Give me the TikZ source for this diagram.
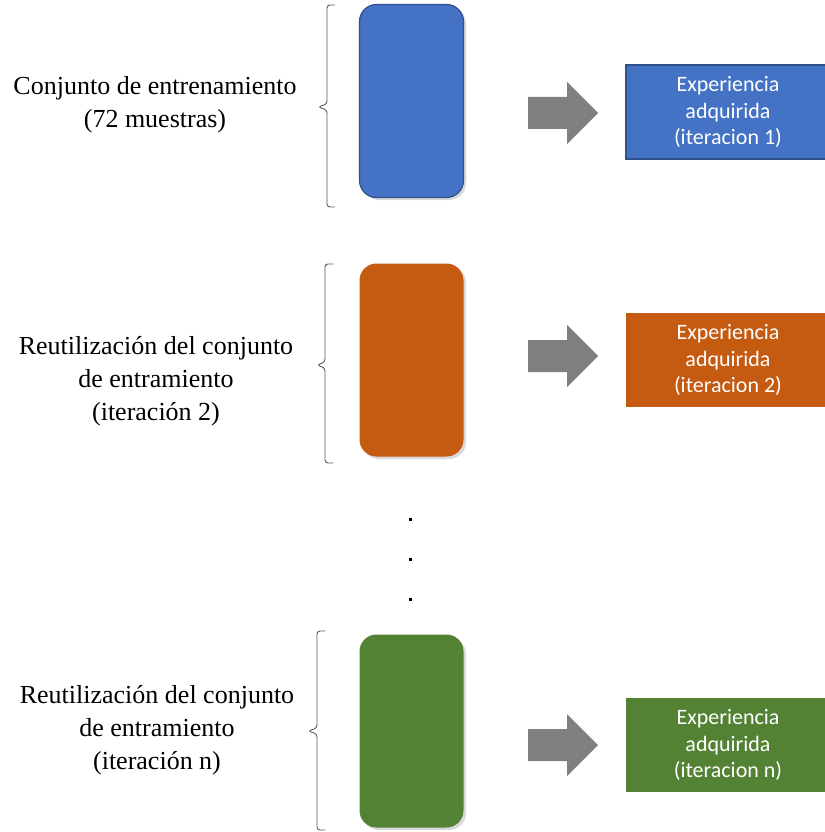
\documentclass[tikz,border=0pt]{standalone}
\usepackage{fontspec}
\setmainfont{Liberation Serif}
\newfontfamily\calibrifont{Carlito}
\usetikzlibrary{shadows}
\definecolor{setblue}{HTML}{4472C4}
\definecolor{setblueline}{HTML}{2F528F}
\definecolor{setorange}{HTML}{C55A11}
\definecolor{setgreen}{HTML}{548235}
\definecolor{arrowgray}{HTML}{7F7F7F}
\definecolor{bracegray}{HTML}{595959}
\tikzset{
  setbox/.style={rounded corners=17pt, minimum width=104pt, minimum height=193pt,
    inner sep=0pt, drop shadow={opacity=0.3, shadow xshift=2.5pt, shadow yshift=-2.5pt}},
  expbox/.style={minimum width=204pt, minimum height=94pt, inner sep=0pt, align=center,
    text=white, font=\calibrifont\fontsize{22}{26.5}\selectfont},
  lefttext/.style={align=center, font=\fontsize{26}{33}\selectfont},
  bracepath/.style={draw=bracegray, line width=0.9pt, rounded corners=3pt},
  blockarrow/.style={fill=arrowgray},
  dotmark/.style={fill=black, minimum size=3pt, inner sep=0pt},
}
\begin{document}
\begin{tikzpicture}[x=1pt,y=-1pt]
\useasboundingbox (0,0) rectangle (824,832);

% stacked training sets
\node[setbox, fill=setblue, draw=setblueline, line width=1.2pt] (s1) at (411.5,101) {};
\node[setbox, fill=setorange] (s2) at (411.5,360) {};
\node[setbox, fill=setgreen] (s3) at (411.5,731) {};

% descriptions
\node[lefttext] (t1) at (155,105) {Conjunto de entrenamiento\\(72 muestras)};
\node[lefttext] (t2) at (156,381) {Reutilización del conjunto\\de entramiento\\(iteración 2)};
\node[lefttext] (t3) at (157,730) {Reutilización del conjunto\\de entramiento\\(iteración n)};

% braces
\draw[bracepath] (335,5) -- (327,5) -- (327,104) -- (318,107) -- (327,110) -- (327,207) -- (335,207);
\draw[bracepath] (333,264) -- (325,264) -- (325,362) -- (317,365) -- (325,368) -- (325,463) -- (333,463);
\draw[bracepath] (325,631) -- (317,631) -- (317,728) -- (308,731) -- (317,734) -- (317,830) -- (325,830);

% block arrows
\foreach \cy in {113,356,745}{
  \fill[blockarrow] (528,\cy-16) -- (567,\cy-16) -- (567,\cy-31) -- (598,\cy)
    -- (567,\cy+31) -- (567,\cy+16) -- (528,\cy+16) -- cycle;
}

% acquired experience
\node[expbox, fill=setblue, draw=setblueline, line width=1.2pt] (e1) at (728,112) {Experiencia\\adquirida\\(iteracion 1)};
\node[expbox, fill=setorange] (e2) at (728,360) {Experiencia\\adquirida\\(iteracion 2)};
\node[expbox, fill=setgreen] (e3) at (728,745) {Experiencia\\adquirida\\(iteracion n)};

% ellipsis
\node[dotmark] (d1) at (410,519) {};
\node[dotmark] (d2) at (410,559) {};
\node[dotmark] (d3) at (410,599) {};
\end{tikzpicture}
\end{document}
